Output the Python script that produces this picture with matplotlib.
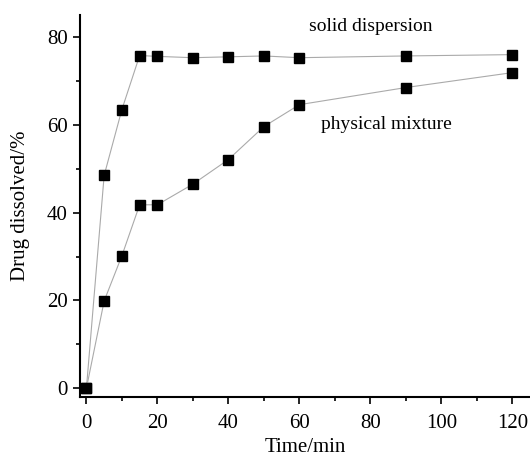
import matplotlib
matplotlib.use("Agg")
import matplotlib.pyplot as plt
from matplotlib.ticker import MultipleLocator

plt.rcParams['font.family'] = ['Liberation Serif', 'DejaVu Serif']

time = [0, 5, 10, 15, 20, 30, 40, 50, 60, 90, 120]
solid_dispersion = [0, 48.5, 63.5, 75.8, 75.6, 75.3, 75.5, 75.7, 75.3, 75.7, 76.0]
physical_mixture = [0, 19.9, 30.2, 41.8, 41.8, 46.5, 52.1, 59.6, 64.6, 68.5, 71.9]

fig = plt.figure(figsize=(5.3, 4.58), dpi=100)
ax = fig.add_axes([0.151, 0.133, 0.849, 0.834])

for y in (solid_dispersion, physical_mixture):
    ax.plot(time, y, color='#aaaaaa', lw=0.8, marker='s', ms=7,
            mfc='black', mec='black', zorder=3, clip_on=False)

ax.text(80, 82.5, 'solid dispersion', fontsize=14, ha='center', va='center')
ax.text(84.5, 60, 'physical mixture', fontsize=14, ha='center', va='center')

ax.set_xlim(-1.8, 125)
ax.set_ylim(-2, 85)
ax.xaxis.set_major_locator(MultipleLocator(20))
ax.xaxis.set_minor_locator(MultipleLocator(10))
ax.yaxis.set_major_locator(MultipleLocator(20))
ax.yaxis.set_minor_locator(MultipleLocator(10))
ax.tick_params(which='both', direction='out', labelsize=15, width=1.2)
ax.tick_params(which='major', length=5)
ax.tick_params(which='minor', length=3)
ax.tick_params(axis='x', pad=7)
ax.tick_params(axis='y', pad=4)
ax.spines['top'].set_visible(False)
ax.spines['right'].set_visible(False)
ax.spines['left'].set_linewidth(1.5)
ax.spines['bottom'].set_linewidth(1.5)
ax.set_xlabel('Time/min', fontsize=15, labelpad=4)
ax.set_ylabel('Drug dissolved/%', fontsize=15, labelpad=12)

fig.savefig('out.png', dpi=100)
